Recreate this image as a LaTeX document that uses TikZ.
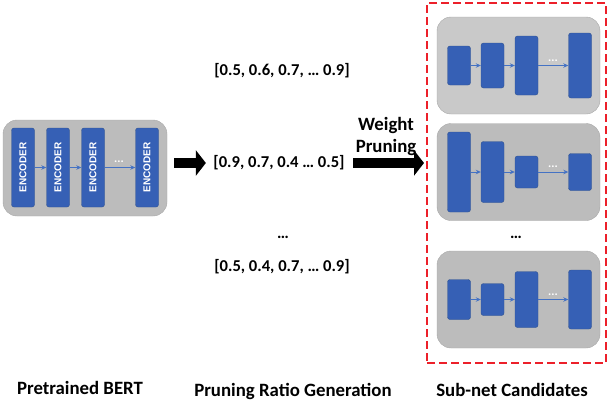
\documentclass[tikz,border=0pt]{standalone}
\usepackage{fontspec}
\setmainfont{Carlito}
\newfontfamily\encfont{Liberation Sans}
\usetikzlibrary{arrows.meta}

\definecolor{encblue}{RGB}{54,96,181}
\definecolor{encline}{RGB}{47,82,143}
\definecolor{flowblue}{RGB}{68,114,196}
\definecolor{panelgray}{RGB}{188,188,188}
\definecolor{panellight}{RGB}{201,201,201}
\definecolor{panelline}{RGB}{168,168,168}
\definecolor{framered}{RGB}{236,32,42}

\tikzset{
  panel/.style={draw=panelline, fill=panelgray, rounded corners=14pt, minimum width=163pt, minimum height=97pt, inner sep=0pt},
  block/.style={draw=encline, fill=encblue, rounded corners=2.5pt, minimum width=23pt, inner sep=0pt},
  flow/.style={flowblue, line width=0.9pt, -{Stealth[length=5pt,width=4.5pt]}},
  fat/.style={line width=10pt, -{Triangle[length=10pt,width=25pt]}},
  ratio/.style={font=\fontsize{16.6}{22}\selectfont\bfseries},
  caption/.style={font=\fontsize{18.8}{22}\selectfont\bfseries, anchor=base},
  wdots/.style={text=white, inner sep=0pt, font=\fontsize{12}{12}\selectfont\bfseries},
}

\begin{document}
\begin{tikzpicture}[x=1pt, y=-1pt]
\useasboundingbox (0,0) rectangle (610,416);

% pretrained model
\node[panel, minimum width=164pt, minimum height=96pt] (bert) at (85,168) {};
\foreach \n/\x in {1/23, 2/58, 3/93, 4/147}
  \node[block, minimum height=79pt, text=white, font=\encfont\fontsize{10}{10}\selectfont\bfseries] (e\n) at (\x,167.5) {\rotatebox{90}{ENCODER}};
\draw[flow] (e1) -- (e2);
\draw[flow] (e2) -- (e3);
\draw[flow] (e3) -- (e4);
\node[wdots] (edots) at (119,162) {...};

% pruning ratios
\node[ratio] (r1) at (282,71) {[0.5, 0.6, 0.7, … 0.9]};
\node[ratio] (r2) at (279,163) {[0.9, 0.7, 0.4 … 0.5]};
\node[ratio, inner sep=0pt] (rdots) at (283,237) {…};
\node[ratio] (r3) at (282,267) {[0.5, 0.4, 0.7, … 0.9]};
\node[caption, anchor=center, align=center] (wp) at (386,136) {Weight\\Pruning};

% candidates
\node[draw=framered, line width=2pt, dash pattern=on 8pt off 4pt, minimum width=179pt, minimum height=360pt] (cands) at (516.5,183) {};
\node[panel, fill=panellight] (s1) at (518.5,65.5) {};
\node[panel] (s2) at (518.5,172) {};
\node[panel] (s3) at (518.5,299.5) {};
\foreach \s/\ha/\hb/\hc/\hd in {1/39/45/59/65, 2/80/61/32/37, 3/40/32/56/59} {
  \node[block, minimum height=\ha pt] (s\s-b1) at ([xshift=-59.5pt]s\s) {};
  \node[block, minimum height=\hb pt] (s\s-b2) at ([xshift=-26pt]s\s) {};
  \node[block, minimum height=\hc pt] (s\s-b3) at ([xshift=8pt]s\s) {};
  \node[block, minimum height=\hd pt] (s\s-b4) at ([xshift=61.5pt]s\s) {};
  \draw[flow] (s\s-b1) -- (s\s-b2);
  \draw[flow] (s\s-b2) -- (s\s-b3);
  \draw[flow] (s\s-b3) -- (s\s-b4);
  \node[wdots] (s\s-dots) at ([xshift=34.5pt, yshift=5pt]s\s) {...};
}
\node[ratio, inner sep=0pt] (cdots) at (516,237) {…};

% big arrows
\draw[fat, shorten <=7pt, shorten >=4pt] (r2.west -| bert.east) -- (r2.west);
\draw[fat, shorten <=5pt, shorten >=2pt] (r2.east) -- (r2.east -| cands.west);

% captions
\node[caption] (capbert) at (80,394) {Pretrained BERT};
\node[caption] (capratio) at (293,396) {Pruning Ratio Generation};
\node[caption] (capcand) at (512,396) {Sub-net Candidates};
\end{tikzpicture}
\end{document}
